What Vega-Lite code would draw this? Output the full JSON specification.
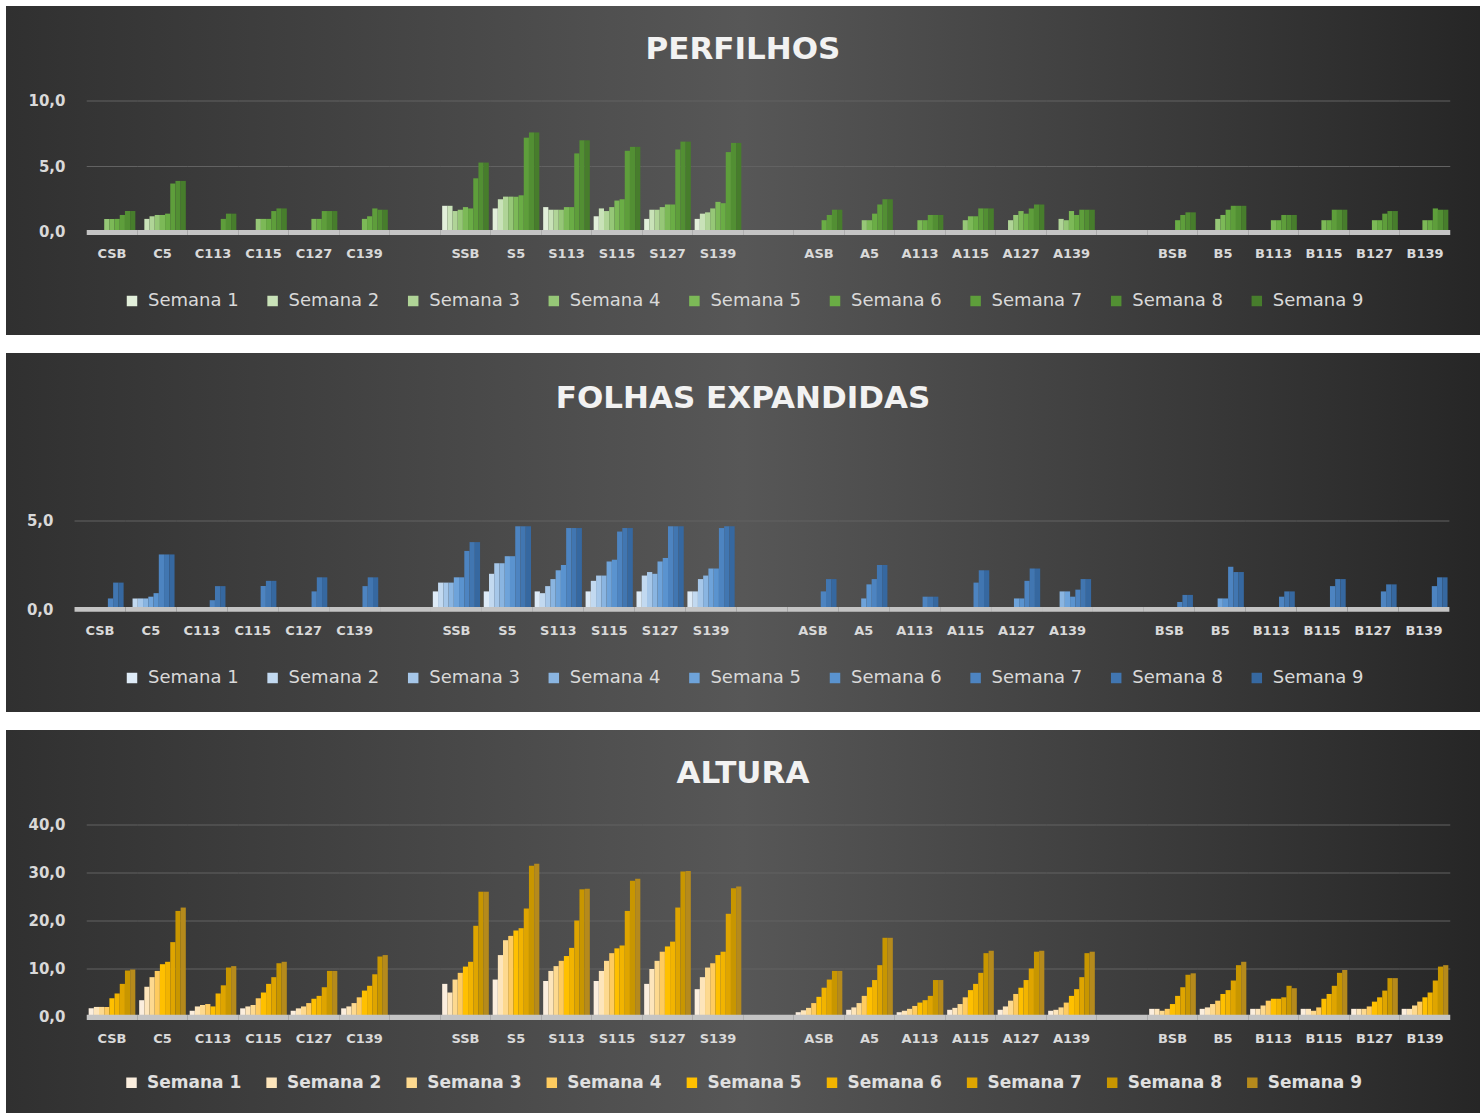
{
"$schema":"https://vega.github.io/schema/vega-lite/v6.json",
"background":"white",
"padding":{"left":6,"top":6,"right":4,"bottom":0},
"spacing":18,
"config":{"font":"DejaVu Sans"},
"datasets":{
"slots":[{"c":"CSB"},{"c":"C5"},{"c":"C113"},{"c":"C115"},{"c":"C127"},{"c":"C139"},{"c":"_1"},{"c":"SSB"},{"c":"S5"},{"c":"S113"},{"c":"S115"},{"c":"S127"},{"c":"S139"},{"c":"_2"},{"c":"ASB"},{"c":"A5"},{"c":"A113"},{"c":"A115"},{"c":"A127"},{"c":"A139"},{"c":"_3"},{"c":"BSB"},{"c":"B5"},{"c":"B113"},{"c":"B115"},{"c":"B127"},{"c":"B139"}],
"perf":[
{"c":"CSB","s":1,"v":0},{"c":"CSB","s":2,"v":0},{"c":"CSB","s":3,"v":0},{"c":"CSB","s":4,"v":1.0},{"c":"CSB","s":5,"v":1.0},{"c":"CSB","s":6,"v":1.0},{"c":"CSB","s":7,"v":1.3},{"c":"CSB","s":8,"v":1.6},{"c":"CSB","s":9,"v":1.6},
{"c":"C5","s":1,"v":0},{"c":"C5","s":2,"v":1.0},{"c":"C5","s":3,"v":1.2},{"c":"C5","s":4,"v":1.3},{"c":"C5","s":5,"v":1.3},{"c":"C5","s":6,"v":1.4},{"c":"C5","s":7,"v":3.7},{"c":"C5","s":8,"v":3.9},{"c":"C5","s":9,"v":3.9},
{"c":"C113","s":1,"v":0},{"c":"C113","s":2,"v":0},{"c":"C113","s":3,"v":0},{"c":"C113","s":4,"v":0},{"c":"C113","s":5,"v":0},{"c":"C113","s":6,"v":0},{"c":"C113","s":7,"v":1.0},{"c":"C113","s":8,"v":1.4},{"c":"C113","s":9,"v":1.4},
{"c":"C115","s":1,"v":0},{"c":"C115","s":2,"v":0},{"c":"C115","s":3,"v":0},{"c":"C115","s":4,"v":1.0},{"c":"C115","s":5,"v":1.0},{"c":"C115","s":6,"v":1.0},{"c":"C115","s":7,"v":1.6},{"c":"C115","s":8,"v":1.8},{"c":"C115","s":9,"v":1.8},
{"c":"C127","s":1,"v":0},{"c":"C127","s":2,"v":0},{"c":"C127","s":3,"v":0},{"c":"C127","s":4,"v":0},{"c":"C127","s":5,"v":1.0},{"c":"C127","s":6,"v":1.0},{"c":"C127","s":7,"v":1.6},{"c":"C127","s":8,"v":1.6},{"c":"C127","s":9,"v":1.6},
{"c":"C139","s":1,"v":0},{"c":"C139","s":2,"v":0},{"c":"C139","s":3,"v":0},{"c":"C139","s":4,"v":0},{"c":"C139","s":5,"v":1.0},{"c":"C139","s":6,"v":1.2},{"c":"C139","s":7,"v":1.8},{"c":"C139","s":8,"v":1.7},{"c":"C139","s":9,"v":1.7},
{"c":"SSB","s":1,"v":2.0},{"c":"SSB","s":2,"v":2.0},{"c":"SSB","s":3,"v":1.6},{"c":"SSB","s":4,"v":1.7},{"c":"SSB","s":5,"v":1.9},{"c":"SSB","s":6,"v":1.8},{"c":"SSB","s":7,"v":4.1},{"c":"SSB","s":8,"v":5.3},{"c":"SSB","s":9,"v":5.3},
{"c":"S5","s":1,"v":1.8},{"c":"S5","s":2,"v":2.5},{"c":"S5","s":3,"v":2.7},{"c":"S5","s":4,"v":2.7},{"c":"S5","s":5,"v":2.7},{"c":"S5","s":6,"v":2.8},{"c":"S5","s":7,"v":7.2},{"c":"S5","s":8,"v":7.6},{"c":"S5","s":9,"v":7.6},
{"c":"S113","s":1,"v":1.9},{"c":"S113","s":2,"v":1.7},{"c":"S113","s":3,"v":1.7},{"c":"S113","s":4,"v":1.7},{"c":"S113","s":5,"v":1.9},{"c":"S113","s":6,"v":1.9},{"c":"S113","s":7,"v":6.0},{"c":"S113","s":8,"v":7.0},{"c":"S113","s":9,"v":7.0},
{"c":"S115","s":1,"v":1.2},{"c":"S115","s":2,"v":1.8},{"c":"S115","s":3,"v":1.6},{"c":"S115","s":4,"v":1.9},{"c":"S115","s":5,"v":2.4},{"c":"S115","s":6,"v":2.5},{"c":"S115","s":7,"v":6.2},{"c":"S115","s":8,"v":6.5},{"c":"S115","s":9,"v":6.5},
{"c":"S127","s":1,"v":1.0},{"c":"S127","s":2,"v":1.7},{"c":"S127","s":3,"v":1.7},{"c":"S127","s":4,"v":1.9},{"c":"S127","s":5,"v":2.1},{"c":"S127","s":6,"v":2.1},{"c":"S127","s":7,"v":6.3},{"c":"S127","s":8,"v":6.9},{"c":"S127","s":9,"v":6.9},
{"c":"S139","s":1,"v":1.0},{"c":"S139","s":2,"v":1.4},{"c":"S139","s":3,"v":1.5},{"c":"S139","s":4,"v":1.8},{"c":"S139","s":5,"v":2.3},{"c":"S139","s":6,"v":2.2},{"c":"S139","s":7,"v":6.1},{"c":"S139","s":8,"v":6.8},{"c":"S139","s":9,"v":6.8},
{"c":"ASB","s":1,"v":0},{"c":"ASB","s":2,"v":0},{"c":"ASB","s":3,"v":0},{"c":"ASB","s":4,"v":0},{"c":"ASB","s":5,"v":0},{"c":"ASB","s":6,"v":0.9},{"c":"ASB","s":7,"v":1.3},{"c":"ASB","s":8,"v":1.7},{"c":"ASB","s":9,"v":1.7},
{"c":"A5","s":1,"v":0},{"c":"A5","s":2,"v":0},{"c":"A5","s":3,"v":0},{"c":"A5","s":4,"v":0.9},{"c":"A5","s":5,"v":0.9},{"c":"A5","s":6,"v":1.4},{"c":"A5","s":7,"v":2.1},{"c":"A5","s":8,"v":2.5},{"c":"A5","s":9,"v":2.5},
{"c":"A113","s":1,"v":0},{"c":"A113","s":2,"v":0},{"c":"A113","s":3,"v":0},{"c":"A113","s":4,"v":0},{"c":"A113","s":5,"v":0.9},{"c":"A113","s":6,"v":0.9},{"c":"A113","s":7,"v":1.3},{"c":"A113","s":8,"v":1.3},{"c":"A113","s":9,"v":1.3},
{"c":"A115","s":1,"v":0},{"c":"A115","s":2,"v":0},{"c":"A115","s":3,"v":0},{"c":"A115","s":4,"v":0.9},{"c":"A115","s":5,"v":1.2},{"c":"A115","s":6,"v":1.2},{"c":"A115","s":7,"v":1.8},{"c":"A115","s":8,"v":1.8},{"c":"A115","s":9,"v":1.8},
{"c":"A127","s":1,"v":0},{"c":"A127","s":2,"v":0},{"c":"A127","s":3,"v":0.9},{"c":"A127","s":4,"v":1.3},{"c":"A127","s":5,"v":1.6},{"c":"A127","s":6,"v":1.4},{"c":"A127","s":7,"v":1.8},{"c":"A127","s":8,"v":2.1},{"c":"A127","s":9,"v":2.1},
{"c":"A139","s":1,"v":0},{"c":"A139","s":2,"v":0},{"c":"A139","s":3,"v":1.0},{"c":"A139","s":4,"v":0.9},{"c":"A139","s":5,"v":1.6},{"c":"A139","s":6,"v":1.3},{"c":"A139","s":7,"v":1.7},{"c":"A139","s":8,"v":1.7},{"c":"A139","s":9,"v":1.7},
{"c":"BSB","s":1,"v":0},{"c":"BSB","s":2,"v":0},{"c":"BSB","s":3,"v":0},{"c":"BSB","s":4,"v":0},{"c":"BSB","s":5,"v":0},{"c":"BSB","s":6,"v":0.9},{"c":"BSB","s":7,"v":1.3},{"c":"BSB","s":8,"v":1.5},{"c":"BSB","s":9,"v":1.5},
{"c":"B5","s":1,"v":0},{"c":"B5","s":2,"v":0},{"c":"B5","s":3,"v":0},{"c":"B5","s":4,"v":1.0},{"c":"B5","s":5,"v":1.3},{"c":"B5","s":6,"v":1.7},{"c":"B5","s":7,"v":2.0},{"c":"B5","s":8,"v":2.0},{"c":"B5","s":9,"v":2.0},
{"c":"B113","s":1,"v":0},{"c":"B113","s":2,"v":0},{"c":"B113","s":3,"v":0},{"c":"B113","s":4,"v":0},{"c":"B113","s":5,"v":0.9},{"c":"B113","s":6,"v":0.9},{"c":"B113","s":7,"v":1.3},{"c":"B113","s":8,"v":1.3},{"c":"B113","s":9,"v":1.3},
{"c":"B115","s":1,"v":0},{"c":"B115","s":2,"v":0},{"c":"B115","s":3,"v":0},{"c":"B115","s":4,"v":0},{"c":"B115","s":5,"v":0.9},{"c":"B115","s":6,"v":0.9},{"c":"B115","s":7,"v":1.7},{"c":"B115","s":8,"v":1.7},{"c":"B115","s":9,"v":1.7},
{"c":"B127","s":1,"v":0},{"c":"B127","s":2,"v":0},{"c":"B127","s":3,"v":0},{"c":"B127","s":4,"v":0},{"c":"B127","s":5,"v":0.9},{"c":"B127","s":6,"v":0.9},{"c":"B127","s":7,"v":1.4},{"c":"B127","s":8,"v":1.6},{"c":"B127","s":9,"v":1.6},
{"c":"B139","s":1,"v":0},{"c":"B139","s":2,"v":0},{"c":"B139","s":3,"v":0},{"c":"B139","s":4,"v":0},{"c":"B139","s":5,"v":0.9},{"c":"B139","s":6,"v":0.9},{"c":"B139","s":7,"v":1.8},{"c":"B139","s":8,"v":1.7},{"c":"B139","s":9,"v":1.7}
],
"folh":[
{"c":"CSB","s":1,"v":0},{"c":"CSB","s":2,"v":0},{"c":"CSB","s":3,"v":0},{"c":"CSB","s":4,"v":0},{"c":"CSB","s":5,"v":0},{"c":"CSB","s":6,"v":0},{"c":"CSB","s":7,"v":0.6},{"c":"CSB","s":8,"v":1.5},{"c":"CSB","s":9,"v":1.5},
{"c":"C5","s":1,"v":0},{"c":"C5","s":2,"v":0.6},{"c":"C5","s":3,"v":0.6},{"c":"C5","s":4,"v":0.6},{"c":"C5","s":5,"v":0.7},{"c":"C5","s":6,"v":0.9},{"c":"C5","s":7,"v":3.1},{"c":"C5","s":8,"v":3.1},{"c":"C5","s":9,"v":3.1},
{"c":"C113","s":1,"v":0},{"c":"C113","s":2,"v":0},{"c":"C113","s":3,"v":0},{"c":"C113","s":4,"v":0},{"c":"C113","s":5,"v":0},{"c":"C113","s":6,"v":0},{"c":"C113","s":7,"v":0.5},{"c":"C113","s":8,"v":1.3},{"c":"C113","s":9,"v":1.3},
{"c":"C115","s":1,"v":0},{"c":"C115","s":2,"v":0},{"c":"C115","s":3,"v":0},{"c":"C115","s":4,"v":0},{"c":"C115","s":5,"v":0},{"c":"C115","s":6,"v":0},{"c":"C115","s":7,"v":1.3},{"c":"C115","s":8,"v":1.6},{"c":"C115","s":9,"v":1.6},
{"c":"C127","s":1,"v":0},{"c":"C127","s":2,"v":0},{"c":"C127","s":3,"v":0},{"c":"C127","s":4,"v":0},{"c":"C127","s":5,"v":0},{"c":"C127","s":6,"v":0},{"c":"C127","s":7,"v":1.0},{"c":"C127","s":8,"v":1.8},{"c":"C127","s":9,"v":1.8},
{"c":"C139","s":1,"v":0},{"c":"C139","s":2,"v":0},{"c":"C139","s":3,"v":0},{"c":"C139","s":4,"v":0},{"c":"C139","s":5,"v":0},{"c":"C139","s":6,"v":0},{"c":"C139","s":7,"v":1.3},{"c":"C139","s":8,"v":1.8},{"c":"C139","s":9,"v":1.8},
{"c":"SSB","s":1,"v":1.0},{"c":"SSB","s":2,"v":1.5},{"c":"SSB","s":3,"v":1.5},{"c":"SSB","s":4,"v":1.5},{"c":"SSB","s":5,"v":1.8},{"c":"SSB","s":6,"v":1.8},{"c":"SSB","s":7,"v":3.3},{"c":"SSB","s":8,"v":3.8},{"c":"SSB","s":9,"v":3.8},
{"c":"S5","s":1,"v":1.0},{"c":"S5","s":2,"v":2.0},{"c":"S5","s":3,"v":2.6},{"c":"S5","s":4,"v":2.6},{"c":"S5","s":5,"v":3.0},{"c":"S5","s":6,"v":3.0},{"c":"S5","s":7,"v":4.7},{"c":"S5","s":8,"v":4.7},{"c":"S5","s":9,"v":4.7},
{"c":"S113","s":1,"v":1.0},{"c":"S113","s":2,"v":0.9},{"c":"S113","s":3,"v":1.3},{"c":"S113","s":4,"v":1.7},{"c":"S113","s":5,"v":2.2},{"c":"S113","s":6,"v":2.5},{"c":"S113","s":7,"v":4.6},{"c":"S113","s":8,"v":4.6},{"c":"S113","s":9,"v":4.6},
{"c":"S115","s":1,"v":1.0},{"c":"S115","s":2,"v":1.6},{"c":"S115","s":3,"v":1.9},{"c":"S115","s":4,"v":1.9},{"c":"S115","s":5,"v":2.7},{"c":"S115","s":6,"v":2.8},{"c":"S115","s":7,"v":4.4},{"c":"S115","s":8,"v":4.6},{"c":"S115","s":9,"v":4.6},
{"c":"S127","s":1,"v":1.0},{"c":"S127","s":2,"v":1.9},{"c":"S127","s":3,"v":2.1},{"c":"S127","s":4,"v":2.0},{"c":"S127","s":5,"v":2.7},{"c":"S127","s":6,"v":2.9},{"c":"S127","s":7,"v":4.7},{"c":"S127","s":8,"v":4.7},{"c":"S127","s":9,"v":4.7},
{"c":"S139","s":1,"v":1.0},{"c":"S139","s":2,"v":1.0},{"c":"S139","s":3,"v":1.7},{"c":"S139","s":4,"v":1.9},{"c":"S139","s":5,"v":2.3},{"c":"S139","s":6,"v":2.3},{"c":"S139","s":7,"v":4.6},{"c":"S139","s":8,"v":4.7},{"c":"S139","s":9,"v":4.7},
{"c":"ASB","s":1,"v":0},{"c":"ASB","s":2,"v":0},{"c":"ASB","s":3,"v":0},{"c":"ASB","s":4,"v":0},{"c":"ASB","s":5,"v":0},{"c":"ASB","s":6,"v":0},{"c":"ASB","s":7,"v":1.0},{"c":"ASB","s":8,"v":1.7},{"c":"ASB","s":9,"v":1.7},
{"c":"A5","s":1,"v":0},{"c":"A5","s":2,"v":0},{"c":"A5","s":3,"v":0},{"c":"A5","s":4,"v":0},{"c":"A5","s":5,"v":0.6},{"c":"A5","s":6,"v":1.4},{"c":"A5","s":7,"v":1.7},{"c":"A5","s":8,"v":2.5},{"c":"A5","s":9,"v":2.5},
{"c":"A113","s":1,"v":0},{"c":"A113","s":2,"v":0},{"c":"A113","s":3,"v":0},{"c":"A113","s":4,"v":0},{"c":"A113","s":5,"v":0},{"c":"A113","s":6,"v":0},{"c":"A113","s":7,"v":0.7},{"c":"A113","s":8,"v":0.7},{"c":"A113","s":9,"v":0.7},
{"c":"A115","s":1,"v":0},{"c":"A115","s":2,"v":0},{"c":"A115","s":3,"v":0},{"c":"A115","s":4,"v":0},{"c":"A115","s":5,"v":0},{"c":"A115","s":6,"v":0},{"c":"A115","s":7,"v":1.5},{"c":"A115","s":8,"v":2.2},{"c":"A115","s":9,"v":2.2},
{"c":"A127","s":1,"v":0},{"c":"A127","s":2,"v":0},{"c":"A127","s":3,"v":0},{"c":"A127","s":4,"v":0},{"c":"A127","s":5,"v":0.6},{"c":"A127","s":6,"v":0.6},{"c":"A127","s":7,"v":1.6},{"c":"A127","s":8,"v":2.3},{"c":"A127","s":9,"v":2.3},
{"c":"A139","s":1,"v":0},{"c":"A139","s":2,"v":0},{"c":"A139","s":3,"v":0},{"c":"A139","s":4,"v":1.0},{"c":"A139","s":5,"v":1.0},{"c":"A139","s":6,"v":0.7},{"c":"A139","s":7,"v":1.1},{"c":"A139","s":8,"v":1.7},{"c":"A139","s":9,"v":1.7},
{"c":"BSB","s":1,"v":0},{"c":"BSB","s":2,"v":0},{"c":"BSB","s":3,"v":0},{"c":"BSB","s":4,"v":0},{"c":"BSB","s":5,"v":0},{"c":"BSB","s":6,"v":0},{"c":"BSB","s":7,"v":0.4},{"c":"BSB","s":8,"v":0.8},{"c":"BSB","s":9,"v":0.8},
{"c":"B5","s":1,"v":0},{"c":"B5","s":2,"v":0},{"c":"B5","s":3,"v":0},{"c":"B5","s":4,"v":0},{"c":"B5","s":5,"v":0.6},{"c":"B5","s":6,"v":0.6},{"c":"B5","s":7,"v":2.4},{"c":"B5","s":8,"v":2.1},{"c":"B5","s":9,"v":2.1},
{"c":"B113","s":1,"v":0},{"c":"B113","s":2,"v":0},{"c":"B113","s":3,"v":0},{"c":"B113","s":4,"v":0},{"c":"B113","s":5,"v":0},{"c":"B113","s":6,"v":0},{"c":"B113","s":7,"v":0.7},{"c":"B113","s":8,"v":1.0},{"c":"B113","s":9,"v":1.0},
{"c":"B115","s":1,"v":0},{"c":"B115","s":2,"v":0},{"c":"B115","s":3,"v":0},{"c":"B115","s":4,"v":0},{"c":"B115","s":5,"v":0},{"c":"B115","s":6,"v":0},{"c":"B115","s":7,"v":1.3},{"c":"B115","s":8,"v":1.7},{"c":"B115","s":9,"v":1.7},
{"c":"B127","s":1,"v":0},{"c":"B127","s":2,"v":0},{"c":"B127","s":3,"v":0},{"c":"B127","s":4,"v":0},{"c":"B127","s":5,"v":0},{"c":"B127","s":6,"v":0},{"c":"B127","s":7,"v":1.0},{"c":"B127","s":8,"v":1.4},{"c":"B127","s":9,"v":1.4},
{"c":"B139","s":1,"v":0},{"c":"B139","s":2,"v":0},{"c":"B139","s":3,"v":0},{"c":"B139","s":4,"v":0},{"c":"B139","s":5,"v":0},{"c":"B139","s":6,"v":0},{"c":"B139","s":7,"v":1.3},{"c":"B139","s":8,"v":1.8},{"c":"B139","s":9,"v":1.8}
],
"alt":[
{"c":"CSB","s":1,"v":1.8},{"c":"CSB","s":2,"v":2.1},{"c":"CSB","s":3,"v":2.1},{"c":"CSB","s":4,"v":2.1},{"c":"CSB","s":5,"v":3.9},{"c":"CSB","s":6,"v":4.9},{"c":"CSB","s":7,"v":6.9},{"c":"CSB","s":8,"v":9.7},{"c":"CSB","s":9,"v":9.9},
{"c":"C5","s":1,"v":3.5},{"c":"C5","s":2,"v":6.3},{"c":"C5","s":3,"v":8.3},{"c":"C5","s":4,"v":9.6},{"c":"C5","s":5,"v":11.0},{"c":"C5","s":6,"v":11.5},{"c":"C5","s":7,"v":15.6},{"c":"C5","s":8,"v":22.1},{"c":"C5","s":9,"v":22.8},
{"c":"C113","s":1,"v":1.3},{"c":"C113","s":2,"v":2.2},{"c":"C113","s":3,"v":2.5},{"c":"C113","s":4,"v":2.7},{"c":"C113","s":5,"v":2.2},{"c":"C113","s":6,"v":4.9},{"c":"C113","s":7,"v":6.6},{"c":"C113","s":8,"v":10.3},{"c":"C113","s":9,"v":10.6},
{"c":"C115","s":1,"v":1.8},{"c":"C115","s":2,"v":2.2},{"c":"C115","s":3,"v":2.5},{"c":"C115","s":4,"v":3.9},{"c":"C115","s":5,"v":5.1},{"c":"C115","s":6,"v":6.9},{"c":"C115","s":7,"v":8.3},{"c":"C115","s":8,"v":11.2},{"c":"C115","s":9,"v":11.5},
{"c":"C127","s":1,"v":1.3},{"c":"C127","s":2,"v":1.8},{"c":"C127","s":3,"v":2.2},{"c":"C127","s":4,"v":2.9},{"c":"C127","s":5,"v":3.8},{"c":"C127","s":6,"v":4.4},{"c":"C127","s":7,"v":6.2},{"c":"C127","s":8,"v":9.6},{"c":"C127","s":9,"v":9.6},
{"c":"C139","s":1,"v":1.8},{"c":"C139","s":2,"v":2.2},{"c":"C139","s":3,"v":2.9},{"c":"C139","s":4,"v":4.1},{"c":"C139","s":5,"v":5.5},{"c":"C139","s":6,"v":6.5},{"c":"C139","s":7,"v":8.9},{"c":"C139","s":8,"v":12.6},{"c":"C139","s":9,"v":12.9},
{"c":"SSB","s":1,"v":6.9},{"c":"SSB","s":2,"v":5.1},{"c":"SSB","s":3,"v":7.8},{"c":"SSB","s":4,"v":9.2},{"c":"SSB","s":5,"v":10.5},{"c":"SSB","s":6,"v":11.5},{"c":"SSB","s":7,"v":19.0},{"c":"SSB","s":8,"v":26.1},{"c":"SSB","s":9,"v":26.1},
{"c":"S5","s":1,"v":7.8},{"c":"S5","s":2,"v":12.9},{"c":"S5","s":3,"v":16.0},{"c":"S5","s":4,"v":16.9},{"c":"S5","s":5,"v":18.0},{"c":"S5","s":6,"v":18.5},{"c":"S5","s":7,"v":22.6},{"c":"S5","s":8,"v":31.5},{"c":"S5","s":9,"v":31.9},
{"c":"S113","s":1,"v":7.5},{"c":"S113","s":2,"v":9.6},{"c":"S113","s":3,"v":10.6},{"c":"S113","s":4,"v":11.7},{"c":"S113","s":5,"v":12.7},{"c":"S113","s":6,"v":14.4},{"c":"S113","s":7,"v":20.1},{"c":"S113","s":8,"v":26.6},{"c":"S113","s":9,"v":26.7},
{"c":"S115","s":1,"v":7.5},{"c":"S115","s":2,"v":9.6},{"c":"S115","s":3,"v":11.7},{"c":"S115","s":4,"v":13.3},{"c":"S115","s":5,"v":14.3},{"c":"S115","s":6,"v":14.9},{"c":"S115","s":7,"v":22.1},{"c":"S115","s":8,"v":28.4},{"c":"S115","s":9,"v":28.8},
{"c":"S127","s":1,"v":6.9},{"c":"S127","s":2,"v":10.0},{"c":"S127","s":3,"v":11.7},{"c":"S127","s":4,"v":13.6},{"c":"S127","s":5,"v":14.7},{"c":"S127","s":6,"v":15.7},{"c":"S127","s":7,"v":22.8},{"c":"S127","s":8,"v":30.3},{"c":"S127","s":9,"v":30.4},
{"c":"S139","s":1,"v":5.8},{"c":"S139","s":2,"v":8.3},{"c":"S139","s":3,"v":10.3},{"c":"S139","s":4,"v":11.2},{"c":"S139","s":5,"v":12.9},{"c":"S139","s":6,"v":13.6},{"c":"S139","s":7,"v":21.5},{"c":"S139","s":8,"v":26.8},{"c":"S139","s":9,"v":27.2},
{"c":"ASB","s":1,"v":1.0},{"c":"ASB","s":2,"v":1.4},{"c":"ASB","s":3,"v":1.9},{"c":"ASB","s":4,"v":2.9},{"c":"ASB","s":5,"v":4.2},{"c":"ASB","s":6,"v":6.1},{"c":"ASB","s":7,"v":7.8},{"c":"ASB","s":8,"v":9.6},{"c":"ASB","s":9,"v":9.6},
{"c":"A5","s":1,"v":1.5},{"c":"A5","s":2,"v":2.0},{"c":"A5","s":3,"v":2.9},{"c":"A5","s":4,"v":4.4},{"c":"A5","s":5,"v":6.2},{"c":"A5","s":6,"v":7.7},{"c":"A5","s":7,"v":10.8},{"c":"A5","s":8,"v":16.5},{"c":"A5","s":9,"v":16.5},
{"c":"A113","s":1,"v":1.0},{"c":"A113","s":2,"v":1.3},{"c":"A113","s":3,"v":1.7},{"c":"A113","s":4,"v":2.3},{"c":"A113","s":5,"v":3.0},{"c":"A113","s":6,"v":3.5},{"c":"A113","s":7,"v":4.4},{"c":"A113","s":8,"v":7.7},{"c":"A113","s":9,"v":7.7},
{"c":"A115","s":1,"v":1.5},{"c":"A115","s":2,"v":1.9},{"c":"A115","s":3,"v":2.7},{"c":"A115","s":4,"v":4.1},{"c":"A115","s":5,"v":5.6},{"c":"A115","s":6,"v":6.9},{"c":"A115","s":7,"v":9.2},{"c":"A115","s":8,"v":13.3},{"c":"A115","s":9,"v":13.8},
{"c":"A127","s":1,"v":1.5},{"c":"A127","s":2,"v":2.2},{"c":"A127","s":3,"v":3.4},{"c":"A127","s":4,"v":4.8},{"c":"A127","s":5,"v":6.1},{"c":"A127","s":6,"v":7.7},{"c":"A127","s":7,"v":10.1},{"c":"A127","s":8,"v":13.6},{"c":"A127","s":9,"v":13.8},
{"c":"A139","s":1,"v":1.3},{"c":"A139","s":2,"v":1.5},{"c":"A139","s":3,"v":2.0},{"c":"A139","s":4,"v":3.0},{"c":"A139","s":5,"v":4.4},{"c":"A139","s":6,"v":5.8},{"c":"A139","s":7,"v":8.3},{"c":"A139","s":8,"v":13.3},{"c":"A139","s":9,"v":13.6},
{"c":"BSB","s":1,"v":1.7},{"c":"BSB","s":2,"v":1.7},{"c":"BSB","s":3,"v":1.3},{"c":"BSB","s":4,"v":1.7},{"c":"BSB","s":5,"v":2.7},{"c":"BSB","s":6,"v":4.4},{"c":"BSB","s":7,"v":6.2},{"c":"BSB","s":8,"v":8.8},{"c":"BSB","s":9,"v":9.1},
{"c":"B5","s":1,"v":1.7},{"c":"B5","s":2,"v":2.0},{"c":"B5","s":3,"v":2.7},{"c":"B5","s":4,"v":3.4},{"c":"B5","s":5,"v":4.8},{"c":"B5","s":6,"v":5.6},{"c":"B5","s":7,"v":7.6},{"c":"B5","s":8,"v":10.8},{"c":"B5","s":9,"v":11.5},
{"c":"B113","s":1,"v":1.7},{"c":"B113","s":2,"v":1.7},{"c":"B113","s":3,"v":2.4},{"c":"B113","s":4,"v":3.4},{"c":"B113","s":5,"v":3.8},{"c":"B113","s":6,"v":3.8},{"c":"B113","s":7,"v":4.1},{"c":"B113","s":8,"v":6.5},{"c":"B113","s":9,"v":6.0},
{"c":"B115","s":1,"v":1.7},{"c":"B115","s":2,"v":1.7},{"c":"B115","s":3,"v":1.3},{"c":"B115","s":4,"v":2.0},{"c":"B115","s":5,"v":3.8},{"c":"B115","s":6,"v":4.8},{"c":"B115","s":7,"v":6.5},{"c":"B115","s":8,"v":9.2},{"c":"B115","s":9,"v":9.8},
{"c":"B127","s":1,"v":1.7},{"c":"B127","s":2,"v":1.7},{"c":"B127","s":3,"v":1.7},{"c":"B127","s":4,"v":2.2},{"c":"B127","s":5,"v":3.2},{"c":"B127","s":6,"v":4.1},{"c":"B127","s":7,"v":5.5},{"c":"B127","s":8,"v":8.1},{"c":"B127","s":9,"v":8.1},
{"c":"B139","s":1,"v":1.7},{"c":"B139","s":2,"v":1.7},{"c":"B139","s":3,"v":2.4},{"c":"B139","s":4,"v":3.2},{"c":"B139","s":5,"v":4.1},{"c":"B139","s":6,"v":5.1},{"c":"B139","s":7,"v":7.6},{"c":"B139","s":8,"v":10.5},{"c":"B139","s":9,"v":10.8}
]
},
"resolve":{"scale":{"x":"independent","y":"independent","xOffset":"independent","color":"independent"},"legend":{"color":"independent"},"axis":{"x":"independent","y":"independent"}},
"vconcat":[
{
"width":1474,"height":329,
"view":{"stroke":null,"fill":{"gradient":"linear","x1":0,"y1":0,"x2":1,"y2":0,"stops":[{"offset":0,"color":"#303030"},{"offset":0.5,"color":"#575757"},{"offset":1,"color":"#262626"}]}},
"title":{"text":"PERFILHOS","offset":-91,"baseline":"bottom","anchor":"middle","font":"DejaVu Sans","fontSize":31,"fontWeight":"bold","color":"#f2f2f2"},
"layer":[
{"data":{"name":"slots"},"mark":{"type":"rect","color":"#626262"},"encoding":{"x":{"field":"c","type":"nominal"},"y":{"datum":4.96,"type":"quantitative"},"y2":{"datum":5.04}}},
{"data":{"name":"slots"},"mark":{"type":"rect","color":"#626262"},"encoding":{"x":{"field":"c","type":"nominal"},"y":{"datum":9.96,"type":"quantitative"},"y2":{"datum":10.04}}},
{"data":{"name":"perf"},"mark":{"type":"bar"},
"encoding":{
"x":{"field":"c","type":"nominal","scale":{"domain":["_0","CSB","C5","C113","C115","C127","C139","_1","SSB","S5","S113","S115","S127","S139","_2","ASB","A5","A113","A115","A127","A139","_3","BSB","B5","B113","B115","B127","B139"],"paddingInner":0,"paddingOuter":0.594,"align":0.504},"axis":{"title":null,"domain":false,"ticks":false,"grid":false,"bandPosition":0.5,"labelAngle":0,"labelAlign":"center","offset":-103,"labelPadding":21,"labelBaseline":"middle","labelOverlap":false,"labelFont":"DejaVu Sans","labelFontSize":13,"labelFontWeight":"bold","labelColor":"#d9d9d9","labelExpr":"indexof(datum.label,'_')==0 ? '' : datum.label"}},
"xOffset":{"field":"s","type":"nominal","scale":{"paddingInner":0,"paddingOuter":0.37}},
"y":{"field":"v","type":"quantitative","scale":{"domain":[-7.863,17.252],"nice":false,"zero":false},"axis":{"title":null,"values":[0,5,10],"domain":false,"ticks":false,"grid":false,"offset":-59,"labelPadding":0,"labelFont":"DejaVu Sans","labelFontSize":15,"labelFontWeight":"bold","labelColor":"#d9d9d9","labelExpr":"replace(format(datum.value,'.1f'),'.',',')"}},
"y2":{"datum":0},
"color":{"field":"s","type":"nominal","scale":{"domain":[1,2,3,4,5,6,7,8,9],"range":["#e2efda","#c9e2b8","#b0d497","#96c777","#7cb957","#6aad45","#5e9e3b","#528f33","#477d2c"]},
"legend":{"title":null,"orient":"none","legendX":117,"legendY":286,"direction":"horizontal","columns":9,"padding":0,"symbolType":"square","symbolSize":110,"symbolStrokeWidth":0,"labelFont":"DejaVu Sans","labelFontSize":18,"labelColor":"#d9d9d9","labelOffset":7,"columnPadding":24.6,"labelExpr":"'Semana ' + datum.label"}}
}},
{"data":{"name":"slots"},"mark":{"type":"rect","color":"#c4c4c4"},"encoding":{"x":{"field":"c","type":"nominal"},"y":{"datum":-0.22,"type":"quantitative"},"y2":{"datum":0.16}}}
]
},
{
"width":1474,"height":359,
"view":{"stroke":null,"fill":{"gradient":"linear","x1":0,"y1":0,"x2":1,"y2":0,"stops":[{"offset":0,"color":"#303030"},{"offset":0.5,"color":"#575757"},{"offset":1,"color":"#262626"}]}},
"title":{"text":"FOLHAS EXPANDIDAS","offset":-93,"baseline":"bottom","anchor":"middle","font":"DejaVu Sans","fontSize":31,"fontWeight":"bold","color":"#f2f2f2"},
"layer":[
{"data":{"name":"slots"},"mark":{"type":"rect","color":"#626262"},"encoding":{"x":{"field":"c","type":"nominal"},"y":{"datum":4.97,"type":"quantitative"},"y2":{"datum":5.03}}},
{"data":{"name":"folh"},"mark":{"type":"bar"},
"encoding":{
"x":{"field":"c","type":"nominal","scale":{"domain":["CSB","C5","C113","C115","C127","C139","_1","SSB","S5","S113","S115","S127","S139","_2","ASB","A5","A113","A115","A127","A139","_3","BSB","B5","B113","B115","B127","B139"],"paddingInner":0,"paddingOuter":0.9737,"align":0.6912},"axis":{"title":null,"domain":false,"ticks":false,"grid":false,"bandPosition":0.5,"labelAngle":0,"labelAlign":"center","offset":-103,"labelPadding":21,"labelBaseline":"middle","labelOverlap":false,"labelFont":"DejaVu Sans","labelFontSize":13,"labelFontWeight":"bold","labelColor":"#d9d9d9","labelExpr":"indexof(datum.label,'_')==0 ? '' : datum.label"}},
"xOffset":{"field":"s","type":"nominal","scale":{"paddingInner":0,"paddingOuter":0.35}},
"y":{"field":"v","type":"quantitative","scale":{"domain":[-5.852,14.545],"nice":false,"zero":false},"axis":{"title":null,"values":[0,5],"domain":false,"ticks":false,"grid":false,"offset":-47,"labelPadding":0,"labelFont":"DejaVu Sans","labelFontSize":15,"labelFontWeight":"bold","labelColor":"#d9d9d9","labelExpr":"replace(format(datum.value,'.1f'),'.',',')"}},
"y2":{"datum":0},
"color":{"field":"s","type":"nominal","scale":{"domain":[1,2,3,4,5,6,7,8,9],"range":["#deebf7","#c2d9f0","#a6c7e9","#8ab5e1","#6ea3da","#5a93cf","#4d84c1","#4176b1","#3668a0"]},
"legend":{"title":null,"orient":"none","legendX":117,"legendY":316,"direction":"horizontal","columns":9,"padding":0,"symbolType":"square","symbolSize":110,"symbolStrokeWidth":0,"labelFont":"DejaVu Sans","labelFontSize":18,"labelColor":"#d9d9d9","labelOffset":7,"columnPadding":24.6,"labelExpr":"'Semana ' + datum.label"}}
}},
{"data":{"name":"slots"},"mark":{"type":"rect","color":"#c4c4c4"},"encoding":{"x":{"field":"c","type":"nominal"},"y":{"datum":-0.16,"type":"quantitative"},"y2":{"datum":0.12}}}
]
},
{
"width":1474,"height":383,
"view":{"stroke":null,"fill":{"gradient":"linear","x1":0,"y1":0,"x2":1,"y2":0,"stops":[{"offset":0,"color":"#303030"},{"offset":0.5,"color":"#575757"},{"offset":1,"color":"#262626"}]}},
"title":{"text":"ALTURA","offset":-91,"baseline":"bottom","anchor":"middle","font":"DejaVu Sans","fontSize":31,"fontWeight":"bold","color":"#f2f2f2"},
"layer":[
{"data":{"name":"slots"},"mark":{"type":"rect","color":"#626262"},"encoding":{"x":{"field":"c","type":"nominal"},"y":{"datum":9.9,"type":"quantitative"},"y2":{"datum":10.1}}},
{"data":{"name":"slots"},"mark":{"type":"rect","color":"#626262"},"encoding":{"x":{"field":"c","type":"nominal"},"y":{"datum":19.9,"type":"quantitative"},"y2":{"datum":20.1}}},
{"data":{"name":"slots"},"mark":{"type":"rect","color":"#626262"},"encoding":{"x":{"field":"c","type":"nominal"},"y":{"datum":29.9,"type":"quantitative"},"y2":{"datum":30.1}}},
{"data":{"name":"slots"},"mark":{"type":"rect","color":"#626262"},"encoding":{"x":{"field":"c","type":"nominal"},"y":{"datum":39.9,"type":"quantitative"},"y2":{"datum":40.1}}},
{"data":{"name":"alt"},"mark":{"type":"bar"},
"encoding":{
"x":{"field":"c","type":"nominal","scale":{"domain":["_0","CSB","C5","C113","C115","C127","C139","_1","SSB","S5","S113","S115","S127","S139","_2","ASB","A5","A113","A115","A127","A139","_3","BSB","B5","B113","B115","B127","B139"],"paddingInner":0,"paddingOuter":0.594,"align":0.504},"axis":{"title":null,"domain":false,"ticks":false,"grid":false,"bandPosition":0.5,"labelAngle":0,"labelAlign":"center","offset":-96,"labelPadding":21,"labelBaseline":"middle","labelOverlap":false,"labelFont":"DejaVu Sans","labelFontSize":13,"labelFontWeight":"bold","labelColor":"#d9d9d9","labelExpr":"indexof(datum.label,'_')==0 ? '' : datum.label"}},
"xOffset":{"field":"s","type":"nominal","scale":{"paddingInner":0,"paddingOuter":0.37}},
"y":{"field":"v","type":"quantitative","scale":{"domain":[-20,59.79],"nice":false,"zero":false},"axis":{"title":null,"values":[0,10,20,30,40],"domain":false,"ticks":false,"grid":false,"offset":-59,"labelPadding":0,"labelFont":"DejaVu Sans","labelFontSize":15,"labelFontWeight":"bold","labelColor":"#d9d9d9","labelExpr":"replace(format(datum.value,'.1f'),'.',',')"}},
"y2":{"datum":0},
"color":{"field":"s","type":"nominal","scale":{"domain":[1,2,3,4,5,6,7,8,9],"range":["#fbeede","#fde5bb","#fdd98f","#fecb5f","#ffc000","#f2b400","#dfa500","#c89600","#b58a1c"]},
"legend":{"title":null,"orient":"none","legendX":117,"legendY":344,"direction":"horizontal","columns":9,"padding":0,"symbolType":"square","symbolSize":110,"symbolStrokeWidth":0,"labelFont":"DejaVu Sans","labelFontSize":17,"labelFontWeight":"bold","labelColor":"#e0e0e0","labelOffset":7,"columnPadding":21.1,"labelExpr":"'Semana ' + datum.label"}}
}},
{"data":{"name":"slots"},"mark":{"type":"rect","color":"#c4c4c4"},"encoding":{"x":{"field":"c","type":"nominal"},"y":{"datum":-0.6,"type":"quantitative"},"y2":{"datum":0.45}}}
]
}
]
}
